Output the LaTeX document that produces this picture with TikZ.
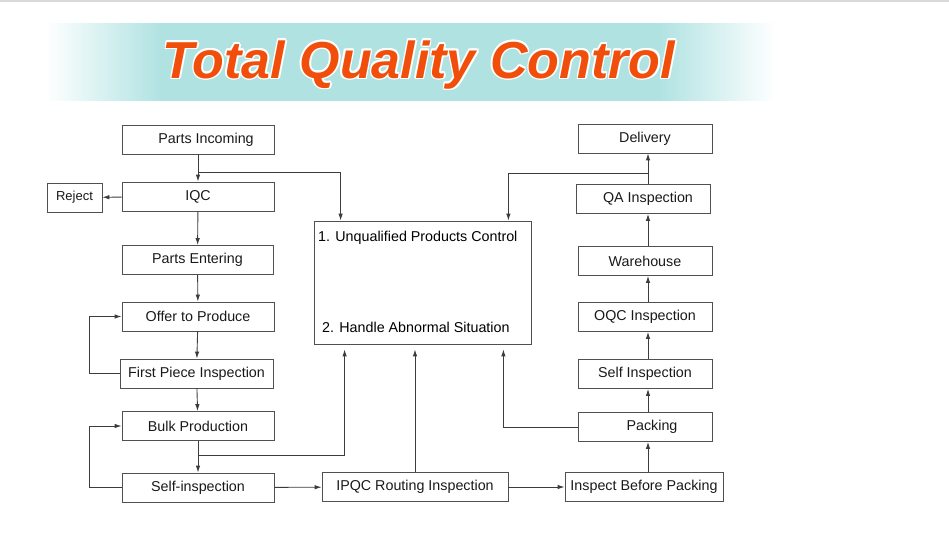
\documentclass[tikz,border=0pt]{standalone}
\usepackage{fontspec}
\setmainfont{Liberation Sans}
\usepackage{tikz}
\usetikzlibrary{arrows.meta,positioning,calc}
\definecolor{bandcyan}{RGB}{176,226,226}
\definecolor{titleorange}{RGB}{240,78,10}
\definecolor{boxgray}{RGB}{80,80,80}
\definecolor{linegray}{RGB}{60,60,60}
\pgfdeclarehorizontalshading{bandshade}{100bp}{color(0bp)=(white); color(25bp)=(white); color(33bp)=(bandcyan); color(67bp)=(bandcyan); color(75bp)=(white); color(100bp)=(white)}
\tikzset{
  stepbox/.style={draw=boxgray, line width=0.8pt, minimum width=152pt, minimum height=29pt, inner sep=2pt, font=\fontsize{14.3}{16}\selectfont, text=black!90},
  rightbox/.style={stepbox, minimum width=134pt},
  arc/.style={-{Latex[length=7pt,width=4.5pt]}, line width=0.9pt, draw=linegray},
  titletext/.style={font=\fontsize{52}{56}\selectfont\bfseries\itshape, inner sep=0pt, anchor=base}
}

\begin{document}
\begin{tikzpicture}[x=1pt, y=-1pt]
  \useasboundingbox (0,0) rectangle (949,543);
  \fill[black!15] (0,0) rectangle (949,2);

  % title band
  \shade[shading=bandshade] (45,24) rectangle (775,100);
  \foreach \dx/\dy [count=\n] in {-1.6/0, 1.6/0, 0/-1.6, 0/1.6, -1.1/-1.1, 1.1/-1.1, -1.1/1.1, 1.1/1.1}
    \node[titletext, text=white] (titlehalo\n) at ([shift={(\dx,\dy)}]419,78) {Total Quality Control};
  \node[titletext, text=titleorange] (title) at (419,78) {Total Quality Control};

  % left column
  \node[stepbox] (incoming) at (198,139.5) {\hspace*{16pt}Parts Incoming};
  \node[stepbox] (iqc) at (198,196.5) {IQC};
  \node[stepbox, minimum width=55pt, font=\fontsize{13}{15}\selectfont] (reject) at (74.5,197.5) {Reject};
  \node[stepbox, minimum width=151pt] (entering) at (197.5,260) {Parts Entering};
  \node[stepbox] (offer) at (198,316.5) {Offer to Produce};
  \node[stepbox, minimum width=153pt] (firstpiece) at (196.5,373.5) {First Piece Inspection};
  \node[stepbox] (bulk) at (198,426) {Bulk Production};
  \node[stepbox] (selfcheck) at (198,487.5) {Self-inspection};

  % bottom row
  \node[stepbox, minimum width=186pt] (ipqc) at (415,487) {IPQC Routing Inspection};
  \node[stepbox, minimum width=158pt] (beforepack) at (644,487) {Inspect Before Packing};

  % right column
  \coordinate (rightline) at (648,0);
  \node[rightbox] (packing) at (645,427) {\hspace*{14pt}Packing};
  \node[rightbox] (selfinsp) at (645,374) {Self Inspection};
  \node[rightbox] (oqc) at (645,317) {OQC Inspection};
  \node[rightbox] (warehouse) at (645,261) {Warehouse};
  \node[rightbox] (qa) at (643,199) {\hspace*{10pt}QA Inspection};
  \node[rightbox] (delivery) at (645,138.5) {Delivery};

  % control box
  \node[stepbox, minimum width=217pt, minimum height=123pt] (control) at (422.5,282.5) {};
  \node[anchor=west, inner sep=0pt, font=\fontsize{14.3}{16}\selectfont] (ctrlone) at (318,238) {1. Unqualified Products Control};
  \node[anchor=west, inner sep=0pt, font=\fontsize{14.3}{16}\selectfont] (ctrltwo) at (322,327) {2. Handle Abnormal Situation};

  \draw[arc] (incoming) -- (iqc);
  \draw[arc] (iqc) -- (reject);
  \draw[arc] (iqc) -- (entering);
  \draw[arc] (entering) -- (offer);
  \draw[arc] (offer) -- (firstpiece);
  \draw[arc] (firstpiece) -- (bulk);
  \draw[arc] (bulk) -- (selfcheck);
  \draw[arc] (firstpiece.west) -- ++(-30,0) |- (offer.west);
  \draw[arc] (selfcheck.west) -- ++(-32,0) |- (bulk.west);

  \draw[arc] (selfcheck) -- (ipqc);
  \draw[arc] (ipqc) -- (beforepack);
  \draw[arc] (beforepack.north -| rightline) -- (packing.south -| rightline);
  \draw[arc] (packing.north -| rightline) -- (selfinsp.south -| rightline);
  \draw[arc] (selfinsp.north -| rightline) -- (oqc.south -| rightline);
  \draw[arc] (oqc.north -| rightline) -- (warehouse.south -| rightline);
  \draw[arc] (warehouse.north -| rightline) -- (qa.south -| rightline);
  \draw[arc] (qa.north -| rightline) -- (delivery.south -| rightline);

  \coordinate (inbranch) at (198,172);
  \coordinate (qabranch) at (648,173);
  \coordinate (bulkbranch) at (198,455);
  \draw[arc] (inbranch) -| ([xshift=27pt]control.north west);
  \draw[arc] (qabranch) -| ([xshift=-23pt]control.north east);
  \draw[arc, shorten >=5pt] (bulkbranch) -| ([xshift=31pt]control.south west);
  \draw[arc, shorten >=5pt] (ipqc.north) -- (ipqc.north |- control.south);
  \draw[arc, shorten >=5pt] (packing.west) -| ([xshift=-28pt]control.south east);
\end{tikzpicture}
\end{document}
